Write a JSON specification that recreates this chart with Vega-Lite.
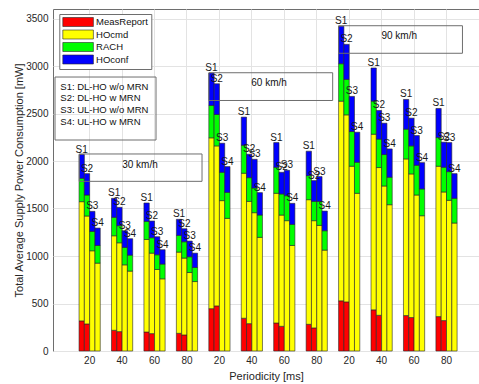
{
  "$schema": "https://vega.github.io/schema/vega-lite/v6.json",
  "width": 426,
  "height": 342,
  "autosize": {"type": "none"},
  "padding": {"left": 53, "top": 9, "right": 0, "bottom": 33},
  "background": "white",
  "datasets": {
    "bars": [
      {"slot": 1, "sc": "S1", "MeasReport": 317, "HOcmd": 1255, "RACH": 246, "HOconf": 250},
      {"slot": 1, "sc": "S2", "MeasReport": 285, "HOcmd": 1136, "RACH": 221, "HOconf": 225},
      {"slot": 1, "sc": "S3", "MeasReport": 0, "HOcmd": 1055, "RACH": 204, "HOconf": 211},
      {"slot": 1, "sc": "S4", "MeasReport": 0, "HOcmd": 925, "RACH": 186, "HOconf": 183},
      {"slot": 2, "sc": "S1", "MeasReport": 218, "HOcmd": 995, "RACH": 194, "HOconf": 200},
      {"slot": 2, "sc": "S2", "MeasReport": 204, "HOcmd": 935, "RACH": 180, "HOconf": 193},
      {"slot": 2, "sc": "S3", "MeasReport": 0, "HOcmd": 907, "RACH": 183, "HOconf": 176},
      {"slot": 2, "sc": "S4", "MeasReport": 0, "HOcmd": 841, "RACH": 168, "HOconf": 173},
      {"slot": 3, "sc": "S1", "MeasReport": 200, "HOcmd": 974, "RACH": 190, "HOconf": 194},
      {"slot": 3, "sc": "S2", "MeasReport": 183, "HOcmd": 847, "RACH": 162, "HOconf": 176},
      {"slot": 3, "sc": "S3", "MeasReport": 0, "HOcmd": 858, "RACH": 155, "HOconf": 190},
      {"slot": 3, "sc": "S4", "MeasReport": 0, "HOcmd": 760, "RACH": 155, "HOconf": 151},
      {"slot": 4, "sc": "S1", "MeasReport": 186, "HOcmd": 855, "RACH": 176, "HOconf": 169},
      {"slot": 4, "sc": "S2", "MeasReport": 169, "HOcmd": 809, "RACH": 172, "HOconf": 137},
      {"slot": 4, "sc": "S3", "MeasReport": 0, "HOcmd": 826, "RACH": 166, "HOconf": 165},
      {"slot": 4, "sc": "S4", "MeasReport": 0, "HOcmd": 731, "RACH": 148, "HOconf": 151},
      {"slot": 5, "sc": "S1", "MeasReport": 446, "HOcmd": 1798, "RACH": 341, "HOconf": 341},
      {"slot": 5, "sc": "S2", "MeasReport": 475, "HOcmd": 1684, "RACH": 331, "HOconf": 323},
      {"slot": 5, "sc": "S3", "MeasReport": 0, "HOcmd": 1583, "RACH": 298, "HOconf": 306},
      {"slot": 5, "sc": "S4", "MeasReport": 0, "HOcmd": 1396, "RACH": 274, "HOconf": 271},
      {"slot": 6, "sc": "S1", "MeasReport": 345, "HOcmd": 1526, "RACH": 295, "HOconf": 296},
      {"slot": 6, "sc": "S2", "MeasReport": 288, "HOcmd": 1287, "RACH": 250, "HOconf": 246},
      {"slot": 6, "sc": "S3", "MeasReport": 0, "HOcmd": 1456, "RACH": 260, "HOconf": 302},
      {"slot": 6, "sc": "S4", "MeasReport": 0, "HOcmd": 1196, "RACH": 235, "HOconf": 236},
      {"slot": 7, "sc": "S1", "MeasReport": 295, "HOcmd": 1365, "RACH": 274, "HOconf": 260},
      {"slot": 7, "sc": "S2", "MeasReport": 260, "HOcmd": 1171, "RACH": 222, "HOconf": 228},
      {"slot": 7, "sc": "S3", "MeasReport": 0, "HOcmd": 1372, "RACH": 263, "HOconf": 267},
      {"slot": 7, "sc": "S4", "MeasReport": 0, "HOcmd": 1111, "RACH": 222, "HOconf": 221},
      {"slot": 8, "sc": "S1", "MeasReport": 281, "HOcmd": 1312, "RACH": 253, "HOconf": 257},
      {"slot": 8, "sc": "S2", "MeasReport": 243, "HOcmd": 1129, "RACH": 203, "HOconf": 219},
      {"slot": 8, "sc": "S3", "MeasReport": 0, "HOcmd": 1322, "RACH": 253, "HOconf": 261},
      {"slot": 8, "sc": "S4", "MeasReport": 0, "HOcmd": 1062, "RACH": 204, "HOconf": 207},
      {"slot": 9, "sc": "S1", "MeasReport": 528, "HOcmd": 2102, "RACH": 394, "HOconf": 394},
      {"slot": 9, "sc": "S2", "MeasReport": 517, "HOcmd": 1969, "RACH": 373, "HOconf": 369},
      {"slot": 9, "sc": "S3", "MeasReport": 0, "HOcmd": 1945, "RACH": 365, "HOconf": 370},
      {"slot": 9, "sc": "S4", "MeasReport": 0, "HOcmd": 1660, "RACH": 327, "HOconf": 316},
      {"slot": 10, "sc": "S1", "MeasReport": 433, "HOcmd": 1849, "RACH": 348, "HOconf": 349},
      {"slot": 10, "sc": "S2", "MeasReport": 376, "HOcmd": 1555, "RACH": 299, "HOconf": 302},
      {"slot": 10, "sc": "S3", "MeasReport": 0, "HOcmd": 1737, "RACH": 331, "HOconf": 330},
      {"slot": 10, "sc": "S4", "MeasReport": 0, "HOcmd": 1540, "RACH": 289, "HOconf": 298},
      {"slot": 11, "sc": "S1", "MeasReport": 373, "HOcmd": 1649, "RACH": 313, "HOconf": 313},
      {"slot": 11, "sc": "S2", "MeasReport": 352, "HOcmd": 1512, "RACH": 295, "HOconf": 292},
      {"slot": 11, "sc": "S3", "MeasReport": 0, "HOcmd": 1642, "RACH": 313, "HOconf": 313},
      {"slot": 11, "sc": "S4", "MeasReport": 0, "HOcmd": 1424, "RACH": 282, "HOconf": 277},
      {"slot": 12, "sc": "S1", "MeasReport": 362, "HOcmd": 1583, "RACH": 302, "HOconf": 306},
      {"slot": 12, "sc": "S2", "MeasReport": 320, "HOcmd": 1354, "RACH": 260, "HOconf": 264},
      {"slot": 12, "sc": "S3", "MeasReport": 0, "HOcmd": 1586, "RACH": 302, "HOconf": 306},
      {"slot": 12, "sc": "S4", "MeasReport": 0, "HOcmd": 1347, "RACH": 260, "HOconf": 260}
    ],
    "comps": [
      {"comp": "MeasReport", "ci": 1},
      {"comp": "HOcmd", "ci": 2},
      {"comp": "RACH", "ci": 3},
      {"comp": "HOconf", "ci": 4}
    ]
  },
  "config": {
    "font": "Liberation Sans",
    "view": {"stroke": "#6e6e6e", "strokeWidth": 1},
    "axis": {
      "labelFont": "Liberation Sans",
      "labelFontSize": 10,
      "labelColor": "#262626",
      "titleFont": "Liberation Sans",
      "titleFontSize": 11,
      "titleFontWeight": "normal",
      "titleColor": "#262626",
      "gridColor": "#e3e3e3",
      "gridWidth": 1,
      "domainColor": "#6e6e6e",
      "tickColor": "#6e6e6e"
    }
  },
  "layer": [
    {
      "data": {"name": "bars"},
      "transform": [
        {"fold": ["MeasReport", "HOcmd", "RACH", "HOconf"], "as": ["comp", "value"]},
        {"lookup": "comp", "from": {"data": {"name": "comps"}, "key": "comp", "fields": ["ci"]}}
      ],
      "layer": [
        {
          "transform": [{"filter": "datum.value > 0"}],
          "mark": {"type": "bar", "stroke": "#262626", "strokeWidth": 0.6},
          "encoding": {
            "x": {
              "field": "slot",
              "type": "ordinal",
              "scale": {"paddingInner": 0.3465, "paddingOuter": 0.739, "align": 0.5434},
              "axis": {
                "title": "Periodicity [ms]",
                "labelAngle": 0,
                "grid": true,
                "bandPosition": 0.5,
                "ticks": false,
                "domain": false,
                "labelPadding": 4,
                "titlePadding": 5,
                "labelExpr": "['20','40','60','80'][(datum.value - 1) % 4]"
              }
            },
            "xOffset": {"field": "sc", "type": "nominal", "sort": ["S1", "S2", "S3", "S4"]},
            "y": {
              "field": "value",
              "type": "quantitative",
              "stack": "zero",
              "scale": {"domain": [0, 3600], "nice": false},
              "axis": {
                "title": "Total Average Supply Power Consumption [mW]",
                "values": [0, 500, 1000, 1500, 2000, 2500, 3000, 3500],
                "format": "d",
                "grid": true,
                "ticks": false,
                "domain": false,
                "labelPadding": 5,
                "titlePadding": 1
              }
            },
            "color": {
              "field": "comp",
              "type": "nominal",
              "scale": {
                "domain": ["MeasReport", "HOcmd", "RACH", "HOconf"],
                "range": ["#ff0000", "#ffff00", "#00ff00", "#0000ff"]
              },
              "legend": {
                "orient": "none",
                "legendX": 6.3,
                "legendY": 5,
                "title": null,
                "fillColor": "white",
                "strokeColor": "#6e6e6e",
                "padding": 3,
                "symbolType": "M-3.4,-1H3.4V1H-3.4Z",
                "symbolSize": 81,
                "symbolOffset": 10.8,
                "symbolStrokeColor": "#262626",
                "symbolStrokeWidth": 0.6,
                "symbolOpacity": 1,
                "labelFontSize": 9.5,
                "labelColor": "#111111",
                "labelOffset": 13,
                "rowPadding": 0.5
              }
            },
            "order": {"field": "ci", "type": "quantitative"}
          }
        },
        {
          "mark": {"type": "text", "baseline": "bottom", "fontSize": 10, "color": "#1a1a1a"},
          "encoding": {
            "x": {"field": "slot", "type": "ordinal"},
            "xOffset": {"field": "sc", "type": "nominal", "sort": ["S1", "S2", "S3", "S4"]},
            "y": {"aggregate": "sum", "field": "value", "type": "quantitative"},
            "text": {"field": "sc"}
          }
        }
      ]
    },
    {
      "data": {"values": [{}]},
      "layer": [
        {
          "mark": {"type": "rect", "fillOpacity": 0, "stroke": "#6e6e6e", "strokeWidth": 1},
          "encoding": {
            "x": {"datum": -0.068, "type": "quantitative", "scale": {"domain": [-0.13, 13.0], "nice": false, "zero": false}, "axis": null},
            "x2": {"datum": 3.045},
            "y": {"datum": 2884, "type": "quantitative", "scale": {"domain": [0, 3600], "nice": false}, "axis": null},
            "y2": {"datum": 2221}
          }
        },
        {
          "mark": {"type": "text", "align": "left", "baseline": "middle", "fontSize": 9.5, "lineHeight": 11.7, "color": "#111111"},
          "encoding": {
            "x": {"datum": 0.095, "type": "quantitative"},
            "y": {"datum": 2782, "type": "quantitative"},
            "text": {"value": ["S1: DL-HO w/o MRN", "S2: DL-HO w MRN", "S3: UL-HO w/o MRN", "S4: UL-HO w MRN"]}
          }
        },
        {
          "mark": {"type": "rect", "fillOpacity": 0, "stroke": "#6e6e6e", "strokeWidth": 1},
          "encoding": {
            "x": {"datum": 0.68, "type": "quantitative"},
            "x2": {"datum": 4.463},
            "y": {"datum": 2074, "type": "quantitative"},
            "y2": {"datum": 1786}
          }
        },
        {
          "mark": {"type": "text", "align": "center", "baseline": "middle", "fontSize": 10, "color": "#111111"},
          "encoding": {
            "x": {"datum": 2.55, "type": "quantitative"},
            "y": {"datum": 1958, "type": "quantitative"},
            "text": {"value": "30 km/h"}
          }
        },
        {
          "mark": {"type": "rect", "fillOpacity": 0, "stroke": "#6e6e6e", "strokeWidth": 1},
          "encoding": {
            "x": {"datum": 4.673, "type": "quantitative"},
            "x2": {"datum": 8.49},
            "y": {"datum": 2929, "type": "quantitative"},
            "y2": {"datum": 2637}
          }
        },
        {
          "mark": {"type": "text", "align": "center", "baseline": "middle", "fontSize": 10, "color": "#111111"},
          "encoding": {
            "x": {"datum": 6.53, "type": "quantitative"},
            "y": {"datum": 2816, "type": "quantitative"},
            "text": {"value": "60 km/h"}
          }
        },
        {
          "mark": {"type": "rect", "fillOpacity": 0, "stroke": "#6e6e6e", "strokeWidth": 1},
          "encoding": {
            "x": {"datum": 8.673, "type": "quantitative"},
            "x2": {"datum": 12.49},
            "y": {"datum": 3424, "type": "quantitative"},
            "y2": {"datum": 3134}
          }
        },
        {
          "mark": {"type": "text", "align": "center", "baseline": "middle", "fontSize": 10, "color": "#111111"},
          "encoding": {
            "x": {"datum": 10.54, "type": "quantitative"},
            "y": {"datum": 3316, "type": "quantitative"},
            "text": {"value": "90 km/h"}
          }
        }
      ]
    }
  ],
  "resolve": {"scale": {"x": "independent"}, "axis": {"x": "independent", "y": "independent"}}
}
